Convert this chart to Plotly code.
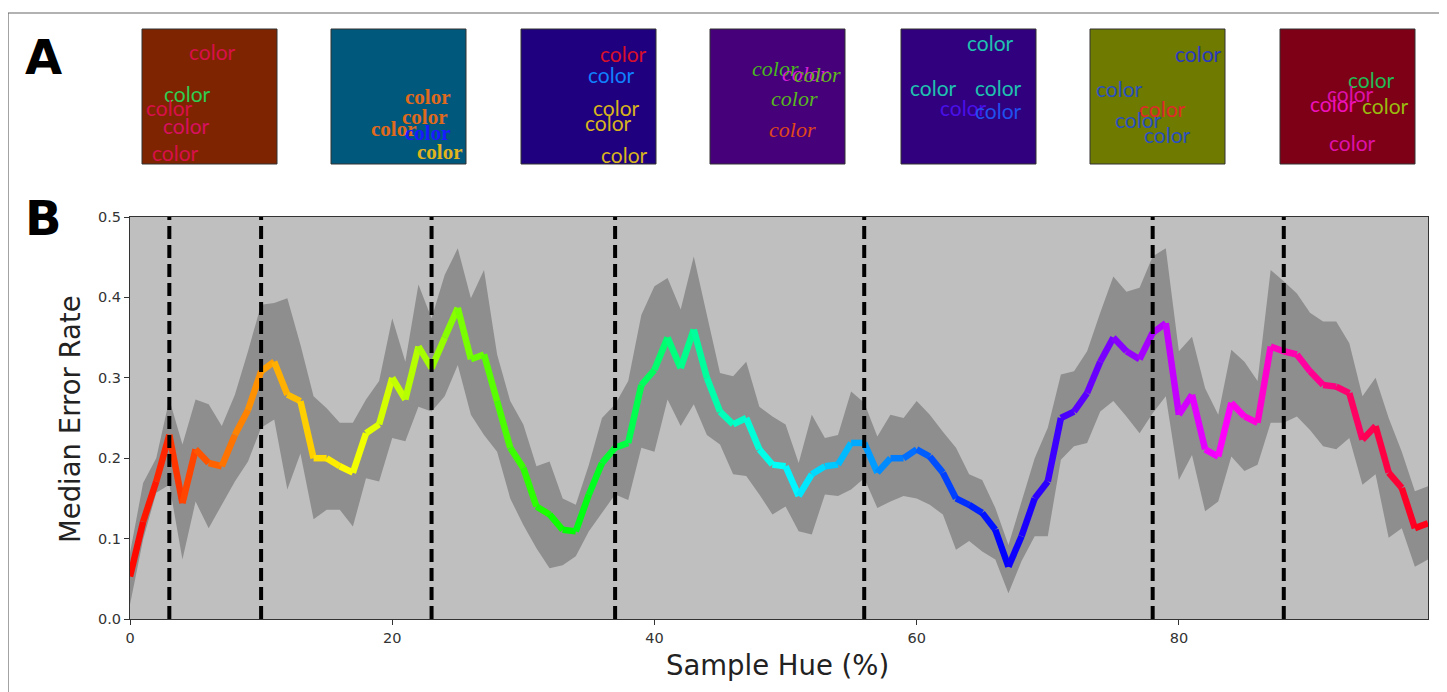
import colorsys
import plotly.graph_objects as go

# ---------------- data ----------------
hue = list(range(100))
median = [0.053, 0.121, 0.171, 0.229, 0.144, 0.211, 0.194, 0.190, 0.229, 0.260,
          0.308, 0.320, 0.279, 0.271, 0.200, 0.200, 0.190, 0.182, 0.231, 0.242,
          0.300, 0.273, 0.339, 0.312, 0.350, 0.387, 0.323, 0.329, 0.271, 0.213,
          0.188, 0.140, 0.130, 0.111, 0.109, 0.155, 0.194, 0.213, 0.219, 0.291,
          0.310, 0.350, 0.312, 0.360, 0.300, 0.258, 0.242, 0.250, 0.211, 0.192,
          0.190, 0.153, 0.180, 0.190, 0.192, 0.219, 0.219, 0.182, 0.200, 0.200,
          0.211, 0.202, 0.182, 0.150, 0.142, 0.132, 0.111, 0.065, 0.103, 0.150,
          0.171, 0.250, 0.258, 0.281, 0.320, 0.350, 0.333, 0.323, 0.356, 0.368,
          0.254, 0.279, 0.211, 0.202, 0.269, 0.252, 0.244, 0.339, 0.333, 0.329,
          0.308, 0.291, 0.289, 0.281, 0.223, 0.240, 0.182, 0.163, 0.113, 0.119]
upper = [0.082, 0.169, 0.200, 0.273, 0.217, 0.273, 0.267, 0.240, 0.279, 0.333,
         0.391, 0.393, 0.399, 0.341, 0.277, 0.262, 0.244, 0.244, 0.273, 0.296,
         0.374, 0.320, 0.416, 0.374, 0.428, 0.461, 0.399, 0.434, 0.329, 0.271,
         0.242, 0.190, 0.196, 0.150, 0.142, 0.192, 0.250, 0.267, 0.296, 0.378,
         0.414, 0.424, 0.385, 0.451, 0.378, 0.306, 0.302, 0.320, 0.264, 0.252,
         0.242, 0.194, 0.254, 0.225, 0.229, 0.283, 0.269, 0.227, 0.254, 0.250,
         0.271, 0.254, 0.233, 0.213, 0.180, 0.173, 0.138, 0.092, 0.146, 0.200,
         0.238, 0.304, 0.308, 0.333, 0.381, 0.426, 0.407, 0.412, 0.451, 0.461,
         0.333, 0.351, 0.287, 0.254, 0.335, 0.320, 0.296, 0.434, 0.420, 0.405,
         0.381, 0.370, 0.370, 0.343, 0.277, 0.300, 0.250, 0.208, 0.159, 0.165]
lower = [0.018, 0.099, 0.157, 0.167, 0.074, 0.146, 0.113, 0.142, 0.171, 0.196,
         0.238, 0.248, 0.161, 0.206, 0.124, 0.136, 0.136, 0.115, 0.175, 0.171,
         0.225, 0.221, 0.264, 0.258, 0.277, 0.316, 0.254, 0.229, 0.208, 0.150,
         0.117, 0.088, 0.063, 0.067, 0.078, 0.109, 0.132, 0.155, 0.148, 0.213,
         0.208, 0.273, 0.240, 0.267, 0.229, 0.217, 0.180, 0.178, 0.155, 0.130,
         0.140, 0.109, 0.105, 0.155, 0.153, 0.161, 0.175, 0.138, 0.146, 0.153,
         0.150, 0.142, 0.130, 0.086, 0.097, 0.084, 0.074, 0.032, 0.072, 0.103,
         0.103, 0.198, 0.215, 0.219, 0.258, 0.271, 0.252, 0.231, 0.256, 0.277,
         0.173, 0.204, 0.134, 0.146, 0.202, 0.184, 0.192, 0.244, 0.244, 0.252,
         0.235, 0.215, 0.211, 0.225, 0.167, 0.180, 0.101, 0.113, 0.065, 0.074]
boundaries = [3, 10, 23, 37, 56, 78, 88]
x_ticks = [0, 20, 40, 60, 80]
y_ticks = [0.0, 0.1, 0.2, 0.3, 0.4, 0.5]

# Panel A: sample squares (background colour) and the word colours in each
sample_backgrounds = ["#7e2400", "#00587c", "#1f007e", "#45007a", "#30007e", "#6e7a00", "#7e0016"]
sample_words = [
    ["#d8104a", "#30cc50", "#d8104a", "#d81060", "#d8104a"],
    ["#e06a1c", "#e06a1c", "#e06a1c", "#1a1aff", "#e0b41c"],
    ["#d8102a", "#1080ff", "#d8b41c", "#d8b41c", "#d8b41c"],
    ["#48b820", "#d820d8", "#60b820", "#58b820", "#e04818"],
    ["#20c0b0", "#20c0b0", "#20c0b0", "#4a10e8", "#2050ee"],
    ["#2a3abf", "#2a50bf", "#e02a2a", "#2a50bf", "#2a50bf"],
    ["#22bb55", "#dd11aa", "#ee11bb", "#99bb11", "#dd11aa"],
]
# (family, weight, style, size)
sample_fonts = [("Lato", "normal", "normal", 21), ("Liberation Serif", "bold", "normal", 21),
                ("Lato", "normal", "normal", 21), ("Liberation Serif", "normal", "italic", 22),
                ("Lato", "normal", "normal", 21), ("Lato", "normal", "normal", 21),
                ("Lato", "normal", "normal", 21)]
# word centre positions, in pixels of the page
word_pos = [
    [(212, 51), (187, 94), (169, 107), (186, 126), (175, 152)],
    [(427, 97), (424, 117), (393, 129), (427, 133), (439, 152)],
    [(623, 53), (611, 75), (616, 107), (608, 122), (624, 155)],
    [(775, 68), (805, 73), (817, 75), (794, 99), (792, 129)],
    [(990, 42), (933, 87), (998, 87), (963, 107), (998, 111)],
    [(1198, 53), (1119, 89), (1162, 108), (1138, 120), (1167, 134)],
    [(1371, 80), (1350, 93), (1333, 104), (1385, 106), (1352, 142)],
]
square_left = [142, 331, 521, 710, 901, 1090, 1280]

# ---------------- layout geometry ----------------
OFF = 8  # page body margin
W, H = 1447 - OFF, 692 - OFF
L, R, T, B = 130 - OFF, 19, 217 - OFF, 73
PW, PH = W - L - R, H - T - B


def px(xp):
    return (xp - OFF - L) / PW


def py(yp):
    return (H - B - (yp - OFF)) / PH


fig = go.Figure()

# uncertainty band
fig.add_trace(go.Scatter(x=hue, y=lower, mode="lines", line=dict(width=0, color="#8e8e8e"),
                         showlegend=False, hoverinfo="skip"))
fig.add_trace(go.Scatter(x=hue, y=upper, mode="lines", line=dict(width=0, color="#8e8e8e"),
                         fill="tonexty", fillcolor="#8e8e8e", showlegend=False, hoverinfo="skip"))

# hue coloured median line, one segment at a time
for i in range(len(hue) - 1):
    h = (hue[i] + hue[i + 1]) / 2 / 100.0
    r, g, b = colorsys.hsv_to_rgb(h, 1, 1)
    col = "rgb(%d,%d,%d)" % (round(r * 255), round(g * 255), round(b * 255))
    fig.add_trace(go.Scatter(x=hue[i:i + 2], y=median[i:i + 2], mode="lines",
                             line=dict(color=col, width=6.5), showlegend=False,
                             hoverinfo="skip"))

# dashed boundaries
for bnd in boundaries:
    fig.add_trace(go.Scatter(x=[bnd, bnd], y=[0, 0.5], mode="lines",
                             line=dict(color="black", width=4, dash="13px,6px"),
                             showlegend=False, hoverinfo="skip"))

shapes = []
annotations = []
# outer frame
shapes.append(dict(type="rect", xref="paper", yref="paper", x0=px(8), x1=px(1442),
                   y0=py(705), y1=py(13), line=dict(color="#666666", width=1.2),
                   fillcolor="rgba(0,0,0,0)", layer="below"))
# squares
for k, left in enumerate(square_left):
    shapes.append(dict(type="rect", xref="paper", yref="paper", x0=px(left), x1=px(left + 135),
                       y0=py(164), y1=py(29), fillcolor=sample_backgrounds[k],
                       line=dict(color="#333333", width=1), layer="above"))
    fam, wt, st, sz = sample_fonts[k]
    for (cx, cy), wc in zip(word_pos[k], sample_words[k]):
        annotations.append(dict(text="color", xref="paper", yref="paper", x=px(cx), y=py(cy),
                                xanchor="center", yanchor="middle", showarrow=False,
                                font=dict(family=fam, size=sz, color=wc, weight=wt, style=st)))

# panel letters
annotations.append(dict(text="<b>A</b>", xref="paper", yref="paper", x=px(43), y=py(57),
                        xanchor="center", yanchor="middle", showarrow=False,
                        font=dict(family="DejaVu Sans", size=48, color="black")))
annotations.append(dict(text="<b>B</b>", xref="paper", yref="paper", x=px(43), y=py(218),
                        xanchor="center", yanchor="middle", showarrow=False,
                        font=dict(family="DejaVu Sans", size=48, color="black")))
# axis titles
annotations.append(dict(text="Sample Hue (%)", xref="paper", yref="paper", x=px(777), y=py(665),
                        xanchor="center", yanchor="middle", showarrow=False,
                        font=dict(family="DejaVu Sans", size=27.5, color="#222222")))
annotations.append(dict(text="Median Error Rate", xref="paper", yref="paper", x=px(70), y=py(419),
                        xanchor="center", yanchor="middle", showarrow=False, textangle=-90,
                        font=dict(family="DejaVu Sans", size=27.5, color="#222222")))

fig.update_layout(
    width=W, height=H,
    margin=dict(l=L, r=R, t=T, b=B, pad=0),
    paper_bgcolor="white", plot_bgcolor="#bfbfbf",
    shapes=shapes, annotations=annotations,
    showlegend=False,
    xaxis=dict(range=[0, 99], tickvals=x_ticks, ticktext=[str(v) for v in x_ticks],
               showgrid=False, zeroline=False, showline=True, linecolor="#333333",
               linewidth=1.2, mirror=True, ticks="outside", ticklen=5, tickcolor="#333333",
               tickfont=dict(family="DejaVu Sans", size=14.5, color="#333333")),
    yaxis=dict(range=[0, 0.5], tickvals=y_ticks, ticktext=["%.1f" % v for v in y_ticks],
               showgrid=False, zeroline=False, showline=True, linecolor="#333333",
               linewidth=1.2, mirror=True, ticks="outside", ticklen=5, tickcolor="#333333",
               tickfont=dict(family="DejaVu Sans", size=14.5, color="#333333")),
)

fig.write_html("out.html")
